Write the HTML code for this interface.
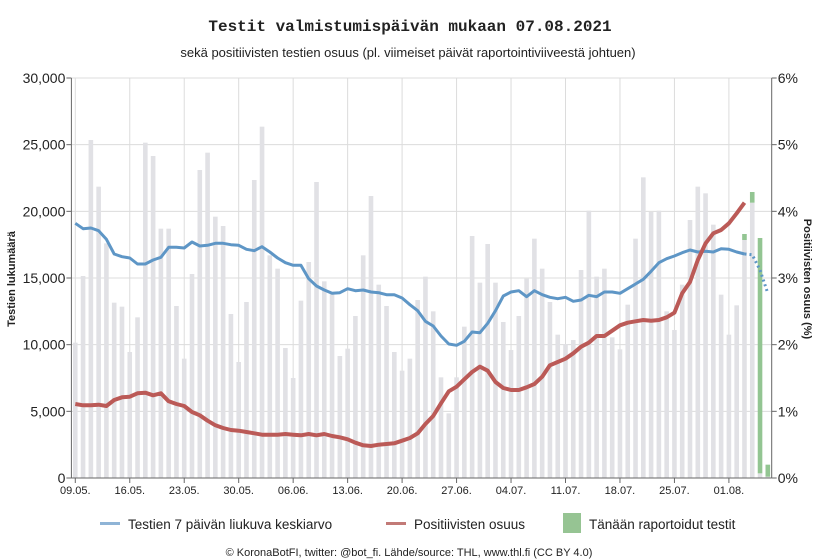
<!DOCTYPE html>
<html><head><meta charset="utf-8"><style>
body{margin:0;background:#fff;width:818px;height:560px;overflow:hidden}
svg{display:block}
text{font-family:"Liberation Sans",sans-serif;fill:#222}
</style></head><body>
<svg id="chart" width="818" height="560" xmlns="http://www.w3.org/2000/svg">
<text x="410" y="31" text-anchor="middle" style="font-family:'Liberation Mono',monospace;font-weight:bold;font-size:16px">Testit valmistumispäivän mukaan 07.08.2021</text>
<text x="408" y="57" text-anchor="middle" font-size="13">sekä positiivisten testien osuus (pl. viimeiset päivät raportointiviiveestä johtuen)</text>
<g id="grid"></g>
<g id="bars"></g>
<g id="lines"></g>
<g id="axes"></g>
<text transform="translate(15,279) rotate(-90)" text-anchor="middle" font-size="11" font-weight="bold">Testien lukumäärä</text>
<text transform="translate(804,279) rotate(90)" text-anchor="middle" font-size="11" font-weight="bold">Positiivisten osuus (%)</text>
<g>
<g><rect x="100" y="522" width="20" height="3" fill="#8fb4d6"/><text x="128" y="529" font-size="13.5">Testien 7 päivän liukuva keskiarvo</text></g>
<g><rect x="386" y="522" width="20" height="3" fill="#c27a77"/><text x="414" y="529" font-size="13.5">Positiivisten osuus</text></g>
<g><rect x="563" y="513" width="18" height="20" fill="#96c493"/><text x="589" y="529" font-size="13.5">Tänään raportoidut testit</text></g>
</g>
<text x="409" y="556" text-anchor="middle" font-size="11">© KoronaBotFI, twitter: @bot_fi. Lähde/source: THL, www.thl.fi (CC BY 4.0)</text>
</svg>
<script>
const dayCount = 90;
const tests = [10150,15150,25350,21850,17600,13150,12850,9450,12050,25150,24150,18700,18700,12900,8950,15300,23100,24400,19600,18900,12300,8700,13200,22350,26350,16700,15700,9750,7500,13300,16200,22200,14750,13850,9150,9700,12150,16700,21150,14500,12900,9450,8050,8950,13350,15100,12500,7550,4850,7550,11350,18150,14650,17550,14650,11700,9600,12150,14950,17950,15700,13200,10750,10050,10350,15600,20050,15100,15700,10550,9650,13000,17950,22550,19950,20050,12500,11100,14500,19350,21850,21350,19000,13750,10750,12950,17850,20650,350,100];
const todayTests = [[86,450],[87,800],[88,17650],[89,900]];
const avg = [19100,18700,18750,18550,17900,16800,16600,16500,16050,16050,16350,16550,17300,17300,17250,17700,17400,17450,17600,17600,17500,17450,17150,17050,17350,16950,16500,16150,15950,15950,14950,14400,14100,13850,13900,14200,14050,14100,13950,13900,13750,13750,13500,13000,12550,11750,11400,10650,10050,9950,10250,10950,10900,11600,12550,13650,13950,14050,13600,14050,13750,13550,13450,13550,13250,13350,13700,13600,13950,13950,13850,14200,14550,14900,15500,16150,16450,16650,16900,17100,16950,17000,16950,17200,17150,16950,16800];
const avgProjected = [16800,16750,15600,13850];
const positive = [1.11,1.09,1.09,1.10,1.08,1.17,1.21,1.22,1.27,1.28,1.24,1.27,1.15,1.11,1.08,0.99,0.94,0.86,0.79,0.75,0.72,0.71,0.69,0.67,0.65,0.65,0.65,0.66,0.65,0.64,0.66,0.64,0.66,0.63,0.61,0.58,0.53,0.49,0.48,0.50,0.51,0.52,0.56,0.60,0.67,0.81,0.93,1.12,1.30,1.37,1.48,1.59,1.67,1.61,1.44,1.35,1.32,1.32,1.36,1.41,1.52,1.69,1.74,1.79,1.87,1.97,2.03,2.13,2.13,2.21,2.29,2.33,2.35,2.37,2.36,2.37,2.41,2.48,2.77,2.94,3.27,3.52,3.67,3.72,3.82,3.97,4.13];
const leftTicks = [0,5000,10000,15000,20000,25000,30000];
const leftTickLabels = ["0","5,000","10,000","15,000","20,000","25,000","30,000"];
const rightTicks = [0,1,2,3,4,5,6];
const xTickDays = [0,7,14,21,28,35,42,49,56,63,70,77,84];
const xTickLabels = ["09.05.","16.05.","23.05.","30.05.","06.06.","13.06.","20.06.","27.06.","04.07.","11.07.","18.07.","25.07.","01.08."];

const X0=71.4, X1=771.7, Y0=478, Y1=78;
const xs = d => X0 + (d+0.5)*(X1-X0)/dayCount;
const yl = v => Y0 - v*(Y0-Y1)/30000;
const yr = p => Y0 - p*(Y0-Y1)/6;
const NS="http://www.w3.org/2000/svg";
function mk(tag, attrs, parent){const e=document.createElementNS(NS,tag);for(const k in attrs)e.setAttribute(k,attrs[k]);parent.appendChild(e);return e;}
const grid=document.getElementById('grid'),bars=document.getElementById('bars'),lines=document.getElementById('lines'),axes=document.getElementById('axes');

leftTicks.forEach((v,i)=>{
  const y=yl(v);
  const g=mk('line',{x1:X0,x2:X1,y1:y,y2:y,stroke:'#dcdcdc','stroke-width':1},grid);
  
  
  mk('line',{x1:X0-5,x2:X0,y1:y,y2:y,stroke:'#666'},axes);
  const t=mk('text',{x:X0-6,y:y+5,'text-anchor':'end','font-size':14},axes);
  t.textContent=leftTickLabels[i];
  
  
});
rightTicks.forEach(p=>{
  const y=yr(p);
  mk('line',{x1:X1,x2:X1+5,y1:y,y2:y,stroke:'#666'},axes);
  const t=mk('text',{x:X1+6,y:y+5,'font-size':14},axes);
  t.textContent=p+'%';
  
  
});
xTickDays.forEach((d,i)=>{
  const x=xs(d);
  const g=mk('line',{x1:x,x2:x,y1:Y1,y2:Y0,stroke:'#dcdcdc'},grid);
  
  
  mk('line',{x1:x,x2:x,y1:Y0,y2:Y0+5,stroke:'#666'},axes);
  const t=mk('text',{x:x,y:Y0+16,'text-anchor':'middle','font-size':11},axes);
  t.textContent=xTickLabels[i];
  
  
});
mk('line',{x1:X0,x2:X0,y1:Y1,y2:Y0,stroke:'#666'},axes);
mk('line',{x1:X1,x2:X1,y1:Y1,y2:Y0,stroke:'#666'},axes);
mk('line',{x1:X0,x2:X1,y1:Y0,y2:Y0,stroke:'#666'},axes);

const bw=4.6;
tests.forEach((v,d)=>{
  const r=mk('rect',{x:xs(d)-bw/2,y:yl(v),width:bw,height:Y0-yl(v),fill:'#e1e1e5'},bars);
  
  
});
todayTests.forEach(([d,v])=>{
  const base=tests[d];
  const r=mk('rect',{x:xs(d)-bw/2,y:yl(base+v),width:bw,height:yl(base)-yl(base+v),fill:'#93c592'},bars);
  
  
});
const pts=(arr,f,off)=>arr.map((v,i)=>xs(i+off).toFixed(1)+','+f(v).toFixed(1)).join(' ');
const l1=mk('polyline',{points:pts(avg,yl,0),fill:'none',stroke:'#5e96c6','stroke-width':3,'stroke-linejoin':'round'},lines);


const l1b=mk('polyline',{points:pts(avgProjected,yl,avg.length-1),fill:'none',stroke:'#5e96c6','stroke-width':3,'stroke-dasharray':'2,3'},lines);


const l2=mk('polyline',{points:pts(positive,yr,0),fill:'none',stroke:'#bb5a57','stroke-width':4,'stroke-linejoin':'round'},lines);


</script>
</body></html>
